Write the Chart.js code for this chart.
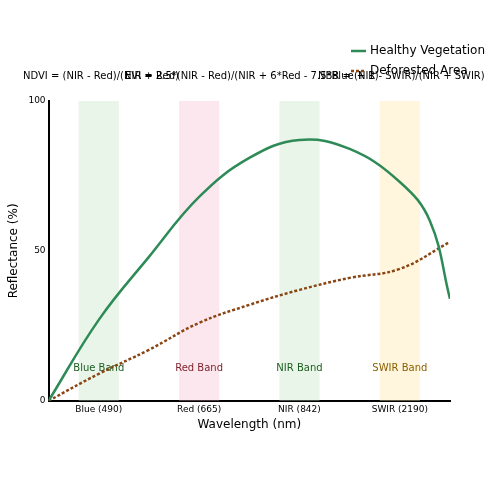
<!DOCTYPE html><html><head><script src="https://cdn.jsdelivr.net/npm/chart.js@4"></script>
<style>body{margin:0}#w{width:500px;height:500px}</style></head><body><div id="w"><canvas id="c"></canvas></div><script>
const tickPos=[0.5,1.5,2.5,3.5];
const tickLabels=['Blue (490)','Red (665)','NIR (842)','SWIR (2190)'];
const xs=[0,0.5,1,1.5,2,2.5,3,3.5,3.8,4];
const healthy=[0,27,48,68,81,87,84,73,60,34];
const xsD=[0,0.5,1,1.5,2,2.5,3,3.5,4];
const deforested=[0,9,17,26,32,37,41,44,53];
const bands=[[0.3,0.7,'rgba(200,230,201,0.4)','Blue Band','#1b5e20'],[1.3,1.7,'rgba(248,187,208,0.35)','Red Band','#7b1f2a'],[2.3,2.7,'rgba(200,230,201,0.4)','NIR Band','#1b5e20'],[3.3,3.7,'rgba(255,236,179,0.45)','SWIR Band','#8a6100']];
const formulas=[['NDVI = (NIR - Red)/(NIR + Red)',23],['EVI = 2.5*(NIR - Red)/(NIR + 6*Red - 7.5*Blue + 1)',125],['NBR = (NIR - SWIR)/(NIR + SWIR)',318]];
const deco={id:'deco',beforeDatasetsDraw(ch){const {ctx,chartArea:a,scales:{x,y}}=ch;ctx.save();
bands.forEach(b=>{ctx.fillStyle=b[2];const l=x.getPixelForValue(b[0]),r=x.getPixelForValue(b[1]);ctx.fillRect(l,a.top,r-l,a.bottom-a.top);
ctx.fillStyle=b[4];ctx.font='10px DejaVu Sans';ctx.textAlign='center';ctx.fillText(b[3],(l+r)/2,y.getPixelForValue(10));});
ctx.restore();},
afterDraw(ch){const ctx=ch.ctx;ctx.save();ctx.fillStyle='#000';ctx.font='10px DejaVu Sans';ctx.textBaseline='middle';
formulas.forEach(f=>ctx.fillText(f[0],f[1],76));
ctx.font='12px DejaVu Sans';[['Healthy Vegetation','#2e8b57',[]],['Deforested Area','#8b4513',[3,2]]].forEach((l,i)=>{const yy=51+i*20;ctx.strokeStyle=l[1];ctx.lineWidth=2.5;ctx.setLineDash(l[2]);ctx.beginPath();ctx.moveTo(351,yy);ctx.lineTo(366,yy);ctx.stroke();ctx.setLineDash([]);ctx.fillText(l[0],370,yy);});
ctx.restore();}};
new Chart(document.getElementById('c'),{type:'line',data:{datasets:[
{data:xs.map((v,i)=>({x:v,y:healthy[i]})),borderColor:'#2e8b57',borderWidth:2.5,pointRadius:0,tension:0.4},
{data:xsD.map((v,i)=>({x:v,y:deforested[i]})),borderColor:'#8b4513',borderWidth:2.5,borderDash:[3,2],pointRadius:0,tension:0.4}]},
options:{animation:false,responsive:true,maintainAspectRatio:false,layout:{padding:{left:3,right:50,top:101,bottom:68}},
plugins:{legend:{display:false},tooltip:{enabled:false}},
scales:{x:{type:'linear',min:0,max:4,afterBuildTicks(s){s.ticks=tickPos.map(v=>({value:v}));},ticks:{callback:(v)=>tickLabels[tickPos.indexOf(v)],color:'#000',font:{size:9,family:'DejaVu Sans'},maxRotation:0},grid:{display:false,drawTicks:false},border:{color:'#000',width:2},title:{display:true,text:'Wavelength (nm)',color:'#000',font:{size:12,family:'DejaVu Sans'},padding:0}},
y:{min:0,max:100,afterBuildTicks(s){s.ticks=[0,50,100].map(v=>({value:v}));},ticks:{color:'#000',font:{size:9,family:'DejaVu Sans'}},grid:{display:false,drawTicks:false},border:{color:'#000',width:2},title:{display:true,text:'Reflectance (%)',color:'#000',font:{size:12,family:'DejaVu Sans'}}}}},plugins:[deco]});
</script></body></html>
